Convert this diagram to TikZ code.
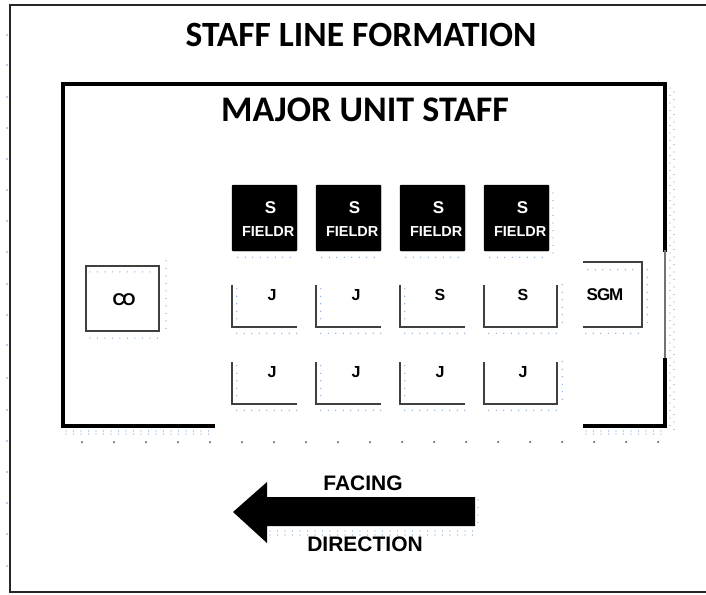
\documentclass[tikz,border=0pt]{standalone}
\usepackage{fontspec}
\setmainfont{Liberation Sans}
\newfontfamily\calib{Carlito}
\definecolor{ghostblue}{RGB}{110,160,220}
\begin{document}
\begin{tikzpicture}[x=1pt,y=-1pt,
  frame/.style={line width=2pt,draw=black!85},
  thick frame/.style={line width=3.6pt,draw=black,line cap=rect},
  thin frame/.style={line width=1.4pt,draw=black!55},
  bracket/.style={line width=2.4pt,draw=black!75},
  ghost/.style={draw=ghostblue,line width=1.3pt,line cap=round,dash pattern=on 0pt off 7.5pt},
  blackdot/.style={fill=black!75,draw=none,circle,inner sep=0pt,minimum size=2pt},
  title/.style={font=\calib\bfseries\fontsize{35.5}{40}\selectfont},
  slot/.style={draw=none,minimum width=65pt,minimum height=42pt,inner sep=0pt},
  wideslot/.style={draw=none,minimum width=73pt,minimum height=42pt,inner sep=0pt},
  blackbox/.style={fill=black,draw=black,rounded corners=1pt,minimum width=65pt,minimum height=66pt,inner sep=0pt},
  lbl/.style={font=\bfseries\fontsize{16}{18}\selectfont,inner sep=0pt},
  wlbl/.style={font=\bfseries\fontsize{17}{18}\selectfont,text=white,inner sep=0pt},
  small/.style={font=\bfseries\fontsize{14.5}{16}\selectfont,text=white,inner sep=0pt,anchor=west},
  dirtext/.style={font=\bfseries\fontsize{21}{24}\selectfont,inner sep=0pt}
]
\useasboundingbox (0,0) rectangle (706,594);
% outer frame
\draw[frame] (706,5) -- (10,5) -- (10,592) -- (706,592);
\foreach \yy in {35,65,97,128,159,190,221,252,284,315,345,378,410,441,472,503,534,566} {\fill[ghostblue] (7,\yy) circle (0.8);}
% titles
\node[title] (t1) at (361,35) {STAFF LINE FORMATION};
\node[title,font=\calib\bfseries\fontsize{36}{40}\selectfont] (t2) at (365,110) {MAJOR UNIT STAFF};
% inner frame
\draw[thick frame] (213,426) -- (63,426) -- (63,84) -- (665,84) -- (665,250);
\draw[thin frame] (665,250) -- (665,360);
\draw[thick frame] (665,360) -- (665,426) -- (585,426);
\draw[ghost] (66,431) -- (213,431);
\draw[ghost] (66,434) -- (213,434);
\draw[ghost] (586,431) -- (668,431);
\draw[ghost] (586,434) -- (668,434);
\draw[ghost] (670,88) -- (670,430);
\draw[ghost] (674,92) -- (674,430);
% black dots row
\foreach \i in {0,...,18} {\node[blackdot] (d\i) at (82+32*\i,442) {};}
% row 1: black boxes
\foreach \i/\cx in {1/264.5,2/348.5,3/432.5,4/516.5} {
  \node[blackbox] (bk\i) at (\cx,218) {};
  \node[wlbl] (bs\i) at ([xshift=6pt,yshift=10pt]bk\i.center) {S};
  \node[small] (bf\i) at ([xshift=10pt,yshift=-14pt]bk\i.west) {FIELDR};
  \draw[ghost] ([xshift=6pt,yshift=-6pt]bk\i.south west) -- ([yshift=-6pt]bk\i.south east);
}
\draw[ghost] (553,193) -- (553,256);
% row 2 and row 3 brackets
\foreach \i/\cx/\ta/\tb in {1/264.5/J/J,2/348.5/J/J,3/432.5/S/J} {
  \node[slot] (r2s\i) at (\cx,306) {};
  \draw[bracket] (r2s\i.north west) -- (r2s\i.south west) -- (r2s\i.south east);
  \node[lbl] (r2t\i) at ([xshift=7.5pt,yshift=11pt]r2s\i.center) {\ta};
  \draw[ghost] ([xshift=5pt,yshift=-6pt]r2s\i.south west) -- ([yshift=-6pt]r2s\i.south east);
  \draw[ghost] ([xshift=5pt,yshift=-4pt]r2s\i.north west) -- ([xshift=5pt,yshift=4pt]r2s\i.south west);
  \node[slot] (r3s\i) at (\cx,383) {};
  \draw[bracket] (r3s\i.north west) -- (r3s\i.south west) -- (r3s\i.south east);
  \node[lbl] (r3t\i) at ([xshift=7.5pt,yshift=11pt]r3s\i.center) {\tb};
  \draw[ghost] ([xshift=5pt,yshift=-6pt]r3s\i.south west) -- ([yshift=-6pt]r3s\i.south east);
  \draw[ghost] ([xshift=5pt,yshift=-4pt]r3s\i.north west) -- ([xshift=5pt,yshift=4pt]r3s\i.south west);
}
\node[wideslot] (r2s4) at (520.5,306) {};
\draw[bracket] (r2s4.north west) -- (r2s4.south west) -- (r2s4.south east) -- (r2s4.north east);
\node[lbl] (r2t4) at (523,295) {S};
\draw[ghost] ([xshift=5pt,yshift=-6pt]r2s4.south west) -- ([yshift=-6pt]r2s4.south east);
\draw[ghost] ([xshift=5pt]r2s4.north east) -- ([xshift=5pt]r2s4.south east);
\node[wideslot] (r3s4) at (520.5,383) {};
\draw[bracket] (r3s4.north west) -- (r3s4.south west) -- (r3s4.south east) -- (r3s4.north east);
\node[lbl] (r3t4) at (523,372) {J};
\draw[ghost] ([xshift=5pt,yshift=-6pt]r3s4.south west) -- ([yshift=-6pt]r3s4.south east);
\draw[ghost] ([xshift=5pt]r3s4.north east) -- ([xshift=5pt]r3s4.south east);
% SGM
\node[draw=none,minimum width=59pt,minimum height=65pt,inner sep=0pt] (sgm) at (612.5,294.5) {};
\draw[bracket] (sgm.north west) -- (sgm.north east) -- (sgm.south east) -- (sgm.south west);
\node[lbl,font=\bfseries\fontsize{17}{18}\selectfont] (sgmt) at (605,295) {S\kern-1ptG\kern-1ptM};
\draw[ghost] ([xshift=3pt,yshift=-6pt]sgm.south west) -- ([yshift=-6pt]sgm.south east);
\draw[ghost] ([xshift=5pt,yshift=-8pt]sgm.north east) -- ([xshift=5pt]sgm.south east);
\draw[ghost] ([xshift=5pt,yshift=-8pt]sgm.north west) -- ([xshift=-6pt,yshift=-8pt]sgm.north east);
% CO
\node[draw=black!75,line width=2.2pt,minimum width=73pt,minimum height=65pt,inner sep=0pt] (co) at (122.5,298.5) {};
\node[lbl,font=\bfseries\fontsize{17}{18}\selectfont] (cot) at (124,300) {C\kern-2.5ptO};
\draw[ghost] ([xshift=5pt,yshift=-6pt]co.south west) -- ([yshift=-6pt]co.south east);
\draw[ghost] ([xshift=6pt,yshift=4pt]co.north east) -- ([xshift=6pt]co.south east);
\draw[ghost] ([xshift=5pt,yshift=-7pt]co.north west) -- ([xshift=-4pt,yshift=-7pt]co.north east);
% facing direction arrow
\fill[black] (233,512) -- (267,482) -- (267,497) -- (475,497) -- (475,526) -- (267,526) -- (267,543) -- cycle;
\draw[ghost] (270,531) -- (478,531);
\draw[ghost] (270,535) -- (478,535);
\draw[ghost] (478,500) -- (478,530);
\node[dirtext] (fac) at (363,483) {FACING};
\node[dirtext] (dir) at (365,544) {DIRECTION};
\end{tikzpicture}
\end{document}
